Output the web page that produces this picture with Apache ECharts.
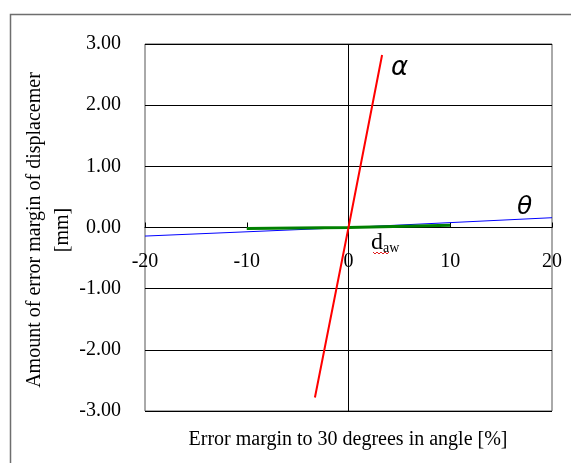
<!DOCTYPE html>
<html><head><meta charset="utf-8">
<script src="https://cdn.jsdelivr.net/npm/echarts@6/dist/echarts.min.js"></script>
<style>html,body{margin:0;padding:0;background:#fff}#c{width:571px;height:463px}</style>
</head><body><div id="c"></div>
<script>
const xTicks = [-20, -10, 0, 10, 20];
const yTicks = [-3, -2, -1, 0, 1, 2, 3];
const alphaData = [[-3.3, -2.78], [0, 0], [3.3, 2.82]];
const thetaData = [[-20, -0.14], [0, 0], [20, 0.16]];
const dawData = [[-10, -0.015], [0, 0], [10, 0.035]];
const xTitle = 'Error margin to 30 degrees in angle [%]';
const yTitle = 'Amount of error margin of displacemer\n[mm]';

const chart = echarts.init(document.getElementById('c'));
const serif = '"Liberation Serif", "Times New Roman", serif';
chart.setOption({
  animation: false,
  graphic: [
    {type: 'rect', shape: {x: 10.5, y: 14.5, width: 600, height: 500}, style: {fill: 'none', stroke: '#6e6e6e', lineWidth: 1.5}, z: -1},
    {type: 'text', x: 348, y: 440, style: {text: xTitle, font: '20px ' + serif, fill: '#000', align: 'center', verticalAlign: 'middle'}},
    {type: 'text', x: 49, y: 230, rotation: Math.PI / 2, style: {text: yTitle, font: '20px ' + serif, fill: '#000', align: 'center', verticalAlign: 'middle', lineHeight: 28}},
    {type: 'text', left: 391, top: 55, style: {text: 'α', font: 'italic 26px "DejaVu Sans", sans-serif', fill: '#000'}},
    {type: 'text', left: 517, top: 195, style: {text: 'θ', font: 'italic 25px "DejaVu Sans", sans-serif', fill: '#000'}},
    {type: 'text', left: 371, top: 231, style: {text: '{d|d}{s|aw}', rich: {d: {font: '24px ' + serif, fill: '#000'}, s: {font: '14px ' + serif, fill: '#000', padding: [11, 0, 0, 0]}}}},
    {type: 'polyline', shape: {points: [[373,252],[375,254],[377,252],[379,254],[381,252],[383,254],[385,252],[387,254],[389,252]]}, style: {stroke: '#e02020', lineWidth: 1, fill: 'none'}, z: 10}
  ],
  grid: [
    {left: 145, top: 44, right: 19, bottom: 52, show: true, borderColor: '#555', borderWidth: 1},
    {left: 145, top: 44, right: 19, bottom: 233, show: false}
  ],
  xAxis: [{
    type: 'value', min: -20, max: 20, interval: 10, gridIndex: 0,
    axisLine: {onZero: true, lineStyle: {color: '#000', width: 1}},
    axisTick: {show: true, inside: true, length: 5, lineStyle: {color: '#000'}},
    splitLine: {show: false},
    axisLabel: {show: false}
  }, {
    type: 'value', min: -20, max: 20, interval: 10, gridIndex: 1,
    axisLine: {show: false}, axisTick: {show: false}, splitLine: {show: false},
    axisLabel: {margin: 22, fontFamily: serif, fontSize: 20, color: '#000',
      formatter: v => String(v)}
  }],
  yAxis: [{
    type: 'value', min: -3, max: 3, interval: 1, gridIndex: 0,
    axisLine: {show: false, onZero: false},
    axisTick: {show: false},
    splitLine: {show: true, lineStyle: {color: '#000', width: 1}},
    axisLabel: {margin: 24, fontFamily: serif, fontSize: 20, color: '#000',
      formatter: v => v.toFixed(2)}
  }, {
    type: 'value', min: 0, max: 1, gridIndex: 1, show: false
  }],
  series: [
    {type: 'line', data: thetaData, showSymbol: false, lineStyle: {color: '#0000ff', width: 1}, z: 3,
      markLine: {silent: true, symbol: 'none', label: {show: false}, lineStyle: {color: '#000', width: 1, type: 'solid'}, data: [{xAxis: 0}]}},
    {type: 'line', data: dawData, showSymbol: false, lineStyle: {color: '#008000', width: 3}, z: 4},
    {type: 'line', data: alphaData, showSymbol: false, lineStyle: {color: '#ff0000', width: 2}, z: 5}
  ]
});
</script></body></html>
